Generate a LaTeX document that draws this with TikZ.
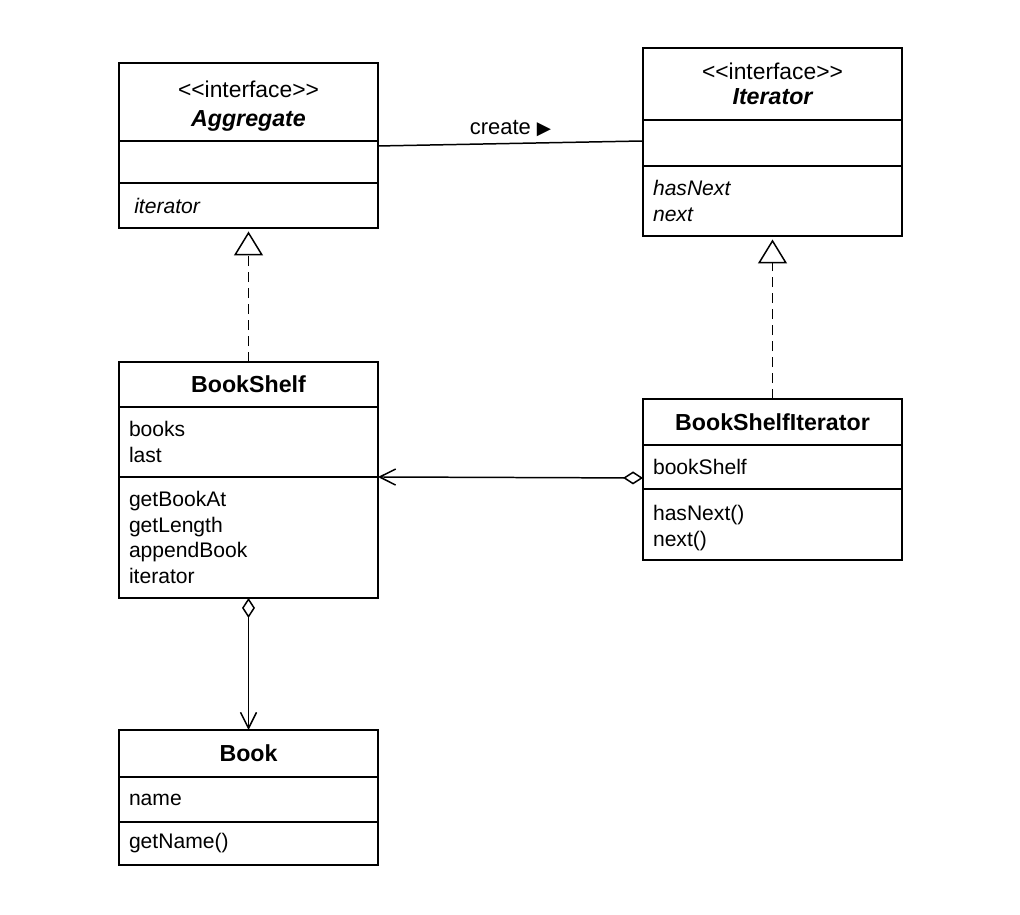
\documentclass[tikz,border=0pt]{standalone}
\usepackage{fontspec}
\setmainfont{Liberation Sans}
\newfontfamily\plainfont{Liberation Sans}
\newfontfamily\symfont{DejaVu Sans}
\usetikzlibrary{positioning, arrows.meta}
\newcommand{\stereo}[1]{{\plainfont\fontsize{13}{14.5}\selectfont<<#1>>}}
\newcommand{\titlefont}{\fontsize{13.2}{15}\selectfont\bfseries}
\tikzset{
  umlbox/.style={draw, line width=0.85pt, minimum width=5.18cm, text width=4.78cm,
    inner xsep=0.2cm, inner ysep=0pt, outer sep=0pt, align=left,
    font=\fontsize{12}{14.5}\selectfont},
  umltitle/.style={umlbox, align=center},
  realize/.style={line width=0.85pt, dash pattern=on 5.7pt off 3.4pt,
    -{Triangle[open, length=0.48cm, width=0.58cm, line width=0.85pt]}},
  hasa/.style={line width=0.85pt,
    {Diamond[open, length=0.4cm, width=0.26cm, line width=0.85pt]}-{Straight Barb[length=0.32cm, width=0.32cm, line width=0.85pt]}},
  assoc/.style={line width=0.85pt}
}
\begin{document}
\begin{tikzpicture}[x=0.02cm, y=-0.02cm]
  \useasboundingbox (0,0) rectangle (1020,915);
  % Aggregate
  \node[umltitle, minimum height=1.56cm, anchor=north] (aggT) at (248.5,63)
    {\rule{0pt}{14pt}\stereo{interface}\\[2pt]{\titlefont\itshape Aggregate}};
  \node[umlbox, minimum height=0.84cm, below=0pt of aggT] (aggA) {};
  \node[umlbox, minimum height=0.9cm, below=0pt of aggA] (aggM) {\hspace{3pt}\textit{iterator}};
  % Iterator
  \node[umltitle, minimum height=1.44cm, anchor=north] (itT) at (772.5,48)
    {\stereo{interface}\\{\titlefont\itshape Iterator}};
  \node[umlbox, minimum height=0.92cm, below=0pt of itT] (itA) {};
  \node[umlbox, minimum height=1.4cm, below=0pt of itA] (itM) {\textit{hasNext}\\\textit{next}};
  % BookShelf
  \node[umltitle, minimum height=0.9cm, anchor=north] (bsT) at (248.5,362) {\titlefont BookShelf};
  \node[umlbox, minimum height=1.4cm, below=0pt of bsT] (bsA) {books\\last};
  \node[umlbox, minimum height=2.42cm, below=0pt of bsA] (bsM)
    {getBookAt\\getLength\\appendBook\\iterator};
  % BookShelfIterator
  \node[umltitle, minimum height=0.92cm, anchor=north] (bsiT) at (772.5,399) {\titlefont BookShelfIterator};
  \node[umlbox, minimum height=0.88cm, below=0pt of bsiT] (bsiA) {bookShelf};
  \node[umlbox, minimum height=1.42cm, below=0pt of bsiA] (bsiM) {\rule{0pt}{13pt}hasNext()\\next()};
  % Book
  \node[umltitle, minimum height=0.94cm, anchor=north] (bkT) at (248.5,730) {\titlefont Book};
  \node[umlbox, minimum height=0.9cm, below=0pt of bkT] (bkA) {name};
  \node[umlbox, minimum height=0.86cm, below=0pt of bkA] (bkM) {getName()};

  % connectors
  \coordinate (cAgg) at ([yshift=-0.1cm]aggA.north east);
  \coordinate (cIt) at ([yshift=0.04cm]itA.west);
  \draw[assoc] (cAgg) -- node[above=0pt, font=\fontsize{12.5}{14.5}\selectfont]
    {create {\symfont\fontsize{10.5}{10}\selectfont ▶}} (cIt);
  \draw[realize] (bsT.north) -- ([yshift=-2pt]aggM.south);
  \draw[realize] (bsiT.north) -- ([yshift=-2pt]itM.south);
  \draw[hasa] ([yshift=-0.22cm]bsiA.west) -- (bsM.north east);
  \draw[hasa] (bsM.south) -- (bkT.north);
\end{tikzpicture}
\end{document}
